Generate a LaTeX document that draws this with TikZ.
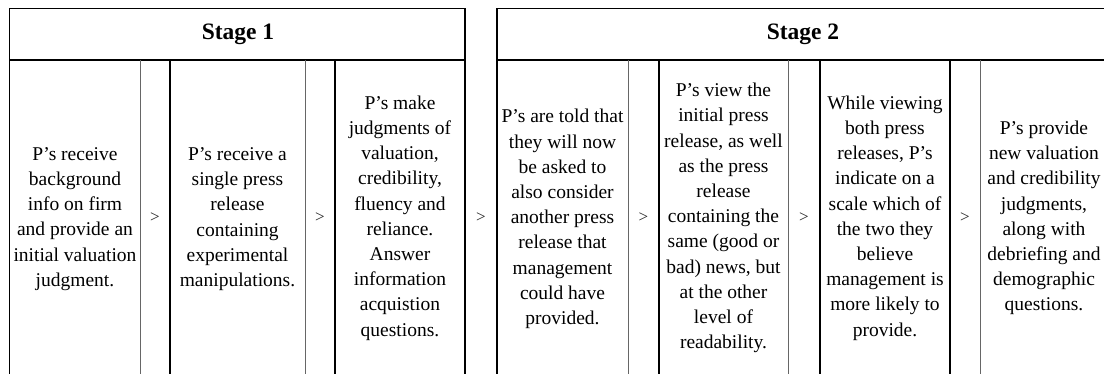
\documentclass[tikz,border=0pt]{standalone}
\usepackage{fontspec}
\setmainfont{Liberation Serif}
\begin{document}
\begin{tikzpicture}[x=1pt,y=-1pt,
  outerrule/.style={draw=black,line width=1.5pt},
  headrule/.style={draw=black,line width=2.4pt},
  thinrule/.style={draw=black!60,line width=1pt},
  thickrule/.style={draw=black,line width=2.3pt},
  stagehead/.style={font=\fontsize{23.5}{27}\selectfont\bfseries,inner sep=0pt},
  celltext/.style={align=center,font=\fontsize{19.5}{25.2}\selectfont,inner sep=0pt},
  gt/.style={font=\fontsize{17}{20}\selectfont,inner sep=0pt,text=black!85}]
\useasboundingbox (0,0) rectangle (1104,374);
\clip (0,0) rectangle (1104,374);

% Stage 1 frame
\draw[outerrule] (9.5,8.5) -- (465,8.5);
\draw[headrule] (9.5,60) -- (465,60);
\draw[draw=black,line width=1.3pt] (9.5,8.5) -- (9.5,380);
\draw[draw=black,line width=2.7pt] (465,8.5) -- (465,380);
\draw[thinrule] (140,60) -- (140,380);
\draw[thickrule] (170,60) -- (170,380);
\draw[thinrule] (305,60) -- (305,380);
\draw[thickrule] (335,60) -- (335,380);

% Stage 2 frame
\draw[outerrule] (497,8.5) -- (1112,8.5);
\draw[headrule] (497,60) -- (1112,60);
\draw[draw=black,line width=1.6pt] (497,8.5) -- (497,380);
\draw[thinrule] (628,60) -- (628,380);
\draw[thickrule] (659,60) -- (659,380);
\draw[thinrule] (788,60) -- (788,380);
\draw[thickrule] (820,60) -- (820,380);
\draw[thickrule] (950,60) -- (950,380);
\draw[thinrule] (980,60) -- (980,380);

% Headings
\node[stagehead] (s1) at (238,34) {Stage 1};
\node[stagehead] (s2) at (803,34) {Stage 2};

% Stage 1 cells
\node[celltext] (a1) at (75,219) {P's receive\\background\\info on firm\\and provide an\\initial valuation\\judgment.};
\node[celltext] (a2) at (237.5,219) {P's receive a\\single press\\release\\containing\\experimental\\manipulations.};
\node[celltext] (a3) at (400,218) {P's make\\judgments of\\valuation,\\credibility,\\fluency and\\reliance.\\Answer\\information\\acquistion\\questions.};

% Stage 2 cells
\node[celltext] (b1) at (562.5,219) {P's are told that\\they will now\\be asked to\\also consider\\another press\\release that\\management\\could have\\provided.};
\node[celltext] (b2) at (723.5,218) {P's view the\\initial press\\release, as well\\as the press\\release\\containing the\\same (good or\\bad) news, but\\at the other\\level of\\readability.};
\node[celltext] (b3) at (885,218) {While viewing\\both press\\releases, P's\\indicate on a\\scale which of\\the two they\\believe\\management is\\more likely to\\provide.};
\node[celltext] (b4) at (1044,218) {P's provide\\new valuation\\and credibility\\judgments,\\along with\\debriefing and\\demographic\\questions.};

% Step markers
\node[gt] (g1) at (155,218) {>};
\node[gt] (g2) at (320,218) {>};
\node[gt] (g3) at (481,218) {>};
\node[gt] (g4) at (643.5,218) {>};
\node[gt] (g5) at (804,218) {>};
\node[gt] (g6) at (965,218) {>};
\end{tikzpicture}
\end{document}
